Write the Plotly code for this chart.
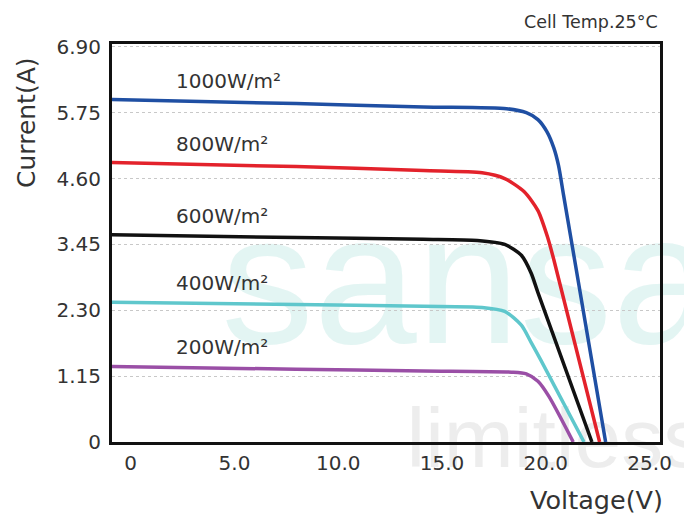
import plotly.graph_objects as go

# ---- data ----
irradiance_labels = ["1000W/m²", "800W/m²", "600W/m²", "400W/m²", "200W/m²"]
colors = ["#1f4fa3", "#e3222b", "#111111", "#5fc7cc", "#9a4fa6"]

v_1000 = [-0.9, 7.97, 14.10, 18.11, 19.06, 19.62, 20.05, 20.38, 20.61, 20.85, 21.18, 22.88]
i_1000 = [5.98, 5.91, 5.85, 5.82, 5.75, 5.63, 5.42, 5.14, 4.83, 4.32, 3.62, 0.0]

v_800 = [-0.9, 7.97, 14.10, 16.93, 18.02, 18.96, 19.62, 20.09, 20.38, 22.59]
i_800 = [4.88, 4.81, 4.74, 4.70, 4.60, 4.37, 4.04, 3.57, 3.19, 0.0]

v_600 = [-0.9, 7.97, 14.10, 16.70, 18.02, 18.82, 19.29, 19.62, 22.22]
i_600 = [3.62, 3.57, 3.54, 3.52, 3.45, 3.26, 2.95, 2.61, 0.0]

v_400 = [-0.9, 7.97, 14.10, 16.93, 18.02, 18.82, 19.29, 19.76, 21.84]
i_400 = [2.44, 2.40, 2.37, 2.35, 2.28, 2.04, 1.74, 1.43, 0.0]

v_200 = [-0.9, 7.97, 14.10, 18.35, 19.06, 19.62, 20.14, 21.32]
i_200 = [1.32, 1.27, 1.24, 1.22, 1.19, 1.06, 0.80, 0.0]

x_tick_vals = [0, 5, 10, 15, 20, 25]
x_tick_text = ["0", "5.0", "10.0", "15.0", "20.0", "25.0"]
y_tick_vals = [0, 1.15, 2.30, 3.45, 4.60, 5.75, 6.90]
y_tick_text = ["0", "1.15", "2.30", "3.45", "4.60", "5.75", "6.90"]

series_v = [v_1000, v_800, v_600, v_400, v_200]
series_i = [i_1000, i_800, i_600, i_400, i_200]

FONT = "DejaVu Sans"
TXT = "#333333"

fig = go.Figure()
for v, i, c in zip(series_v, series_i, colors):
    fig.add_trace(go.Scatter(x=v, y=i, mode="lines",
                             line=dict(color=c, width=3.5, shape="spline", smoothing=0.7),
                             showlegend=False, hoverinfo="skip"))

annotations = []
for lab, v, i in zip(irradiance_labels, series_v, series_i):
    annotations.append(dict(x=2.1, y=i[0], xref="x", yref="y", text=lab, showarrow=False,
                            xanchor="left", yanchor="bottom", yshift=5,
                            font=dict(family=FONT, size=20, color=TXT)))

annotations += [
    dict(x=-0.157, y=0.804, xref="paper", yref="paper", text="Current(A)", showarrow=False,
         textangle=-90, xanchor="center", yanchor="middle",
         font=dict(family=FONT, size=25, color=TXT)),
    dict(x=0.884, y=-0.146, xref="paper", yref="paper", text="Voltage(V)", showarrow=False,
         xanchor="center", yanchor="middle",
         font=dict(family=FONT, size=25.5, color=TXT)),
    dict(x=1.0, y=1.055, xref="paper", yref="paper", text="Cell Temp.25°C", showarrow=False,
         xanchor="right", yanchor="middle",
         font=dict(family=FONT, size=17.5, color=TXT)),
]

# faint background watermark (drawn below the curves)
shapes = [
    dict(type="rect", xref="paper", yref="paper", x0=0.15, x1=1.15, y0=0.255, y1=0.655,
         layer="below", line=dict(width=0), fillcolor="rgba(0,0,0,0)",
         label=dict(text="sansa", textposition="middle center",
                    font=dict(family="Liberation Sans", size=185, color="rgba(200,235,232,0.5)"))),
    dict(type="rect", xref="paper", yref="paper", x0=0.41, x1=1.21, y0=-0.1, y1=0.16,
         layer="below", line=dict(width=0), fillcolor="rgba(0,0,0,0)",
         label=dict(text="limitless", textposition="middle center",
                    font=dict(family="Liberation Sans", size=84, color="rgba(225,225,225,0.6)"))),
]

fig.update_layout(
    width=684, height=514,
    margin=dict(l=112, r=12, t=44, b=72),
    paper_bgcolor="white", plot_bgcolor="rgba(0,0,0,0)",
    annotations=annotations, shapes=shapes,
    hovermode=False,
    xaxis=dict(range=[-0.9, 25.5], tickvals=x_tick_vals, ticktext=x_tick_text,
               showgrid=False, zeroline=False, showline=True, mirror=True,
               linecolor="#111111", linewidth=3, ticks="", ticklabelstandoff=1,
               ticklabeloverflow="allow",
               tickfont=dict(family=FONT, size=20, color=TXT)),
    yaxis=dict(range=[0, 6.95], tickvals=y_tick_vals, ticktext=y_tick_text,
               showgrid=True, gridcolor="#c8c8c8", griddash="dot", gridwidth=1.2,
               zeroline=False, showline=True, mirror=True,
               linecolor="#111111", linewidth=3, ticks="", ticklabelstandoff=4,
               tickfont=dict(family=FONT, size=20, color=TXT)),
)

# remove the browser's default 8px body margin so the figure fills the window exactly
fig.write_html("out.html", config={"displayModeBar": False, "staticPlot": True},
               post_script="document.body.style.margin='0';")
